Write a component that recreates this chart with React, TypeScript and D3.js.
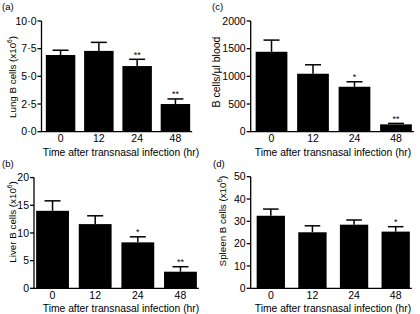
import React from "react";
import * as d3 from "d3";

const categories = ["0", "12", "24", "48"];

const lungMeans = [6.93, 7.3, 5.93, 2.5];
const lungSem = [0.43, 0.77, 0.61, 0.46];
const lungStars = ["", "", "**", "**"];
const lungTicks = [0, 2.5, 5, 7.5, 10];

const liverMeans = [14.0, 11.6, 8.3, 3.0];
const liverSem = [1.8, 1.5, 1.0, 0.9];
const liverStars = ["", "", "*", "**"];
const liverTicks = [0, 5, 10, 15, 20];

const bloodMeans = [1444, 1047, 812, 133];
const bloodSem = [211, 162, 90, 17];
const bloodStars = ["", "", "*", "**"];
const bloodTicks = [0, 500, 1000, 1500, 2000];

const spleenMeans = [32.5, 25.1, 28.5, 25.4];
const spleenSem = [3.0, 2.9, 2.1, 2.2];
const spleenStars = ["", "", "", "*"];
const spleenTicks = [0, 10, 20, 30, 40, 50];

const xTitle = "Time after transnasal infection (hr)";
const FONT = "'Liberation Sans', Arial, Helvetica, sans-serif";

type PanelProps = {
  tag: string;
  tagX: number;
  tagY: number;
  means: number[];
  sem: number[];
  stars: string[];
  ticks: number[];
  fmt: (v: number) => string;
  yTitle: string;
  yTitleSup?: string;
  yTitleX: number;
  yTitleY: number;
  yTitleSize: number;
  axisX: number;
  x0: number;
  x1: number;
  top: number;
  bottom: number;
  padInner: number;
  padOuter: number;
  xTitleX: number;
};

function Panel(p: PanelProps) {
  const x = d3
    .scaleBand<string>()
    .domain(categories)
    .range([p.x0, p.x1])
    .paddingInner(p.padInner)
    .paddingOuter(p.padOuter);
  const yMax = p.ticks[p.ticks.length - 1];
  const y = d3.scaleLinear().domain([0, yMax]).range([p.bottom, p.top]);
  const bw = x.bandwidth();
  const lastRight = (x(categories[categories.length - 1]) as number) + bw;
  const capW = Math.min(16, bw * 0.55);
  return (
    <g fontFamily={FONT} fill="#000">
      <text x={p.tagX} y={p.tagY} fontSize={9.5}>
        {p.tag}
      </text>
      {categories.map((c, i) => {
        const cx = (x(c) as number) + bw / 2;
        const yt = y(p.means[i] + p.sem[i]);
        return (
          <g key={"e" + c} stroke="#000" strokeWidth={1.5}>
            <line x1={cx} x2={cx} y1={y(p.means[i])} y2={yt} />
            <line x1={cx - capW / 2} x2={cx + capW / 2} y1={yt} y2={yt} />
          </g>
        );
      })}
      {categories.map((c, i) => (
        <rect
          key={"b" + c}
          x={x(c) as number}
          y={y(p.means[i])}
          width={bw}
          height={p.bottom - y(p.means[i])}
          fill="#000"
        />
      ))}
      {categories.map((c, i) =>
        p.stars[i] ? (
          <text
            key={"s" + c}
            x={(x(c) as number) + bw / 2}
            y={y(p.means[i] + p.sem[i]) - 1.5}
            fontSize={9}
            textAnchor="middle"
          >
            {p.stars[i]}
          </text>
        ) : null
      )}
      <line
        x1={p.axisX}
        x2={p.axisX}
        y1={y(yMax)}
        y2={p.bottom}
        stroke="#000"
        strokeWidth={1.3}
      />
      {p.ticks.map((t) => (
        <g key={"t" + t}>
          <line
            x1={p.axisX - 4}
            x2={p.axisX}
            y1={y(t)}
            y2={y(t)}
            stroke="#000"
            strokeWidth={1.3}
          />
          <text
            x={p.axisX - 5}
            y={y(t)}
            dy="0.35em"
            fontSize={10.5}
            textAnchor="end"
          >
            {p.fmt(t)}
          </text>
        </g>
      ))}
      <line
        x1={p.axisX}
        x2={lastRight + 2}
        y1={p.bottom}
        y2={p.bottom}
        stroke="#000"
        strokeWidth={1.3}
      />
      {categories.map((c) => (
        <text
          key={"x" + c}
          x={(x(c) as number) + bw / 2}
          y={p.bottom + 10.5}
          fontSize={10.5}
          textAnchor="middle"
        >
          {c}
        </text>
      ))}
      <text
        x={p.xTitleX}
        y={p.bottom + 24}
        fontSize={10.3}
        textAnchor="middle"
      >
        {xTitle}
      </text>
      <text
        transform={`translate(${p.yTitleX},${p.yTitleY}) rotate(-90)`}
        fontSize={p.yTitleSize}
        textAnchor="middle"
      >
        {p.yTitle}
        {p.yTitleSup ? (
          <>
            <tspan fontSize={6.5} dy={-3.8}>
              {p.yTitleSup}
            </tspan>
            <tspan dy={3.8}>)</tspan>
          </>
        ) : null}
      </text>
    </g>
  );
}

const fmtDot = (v: number) => d3.format(".1f")(v).replace(".", "\u00b7");
const fmtInt = (v: number) => d3.format("d")(v);

export default function App() {
  return (
    <svg
      width={420}
      height={314}
      style={{ position: "absolute", left: 0, top: 0, background: "#fff" }}
    >
      <rect width={420} height={314} fill="#fff" />
      <Panel
        tag="(a)"
        tagX={2}
        tagY={10}
        means={lungMeans}
        sem={lungSem}
        stars={lungStars}
        ticks={lungTicks}
        fmt={fmtDot}
        yTitle="Lung B cells (x10"
        yTitleSup="6"
        yTitleX={16}
        yTitleY={77}
        yTitleSize={9.8}
        axisX={41.5}
        x0={42}
        x1={194}
        top={21}
        bottom={131.7}
        padInner={0.23}
        padOuter={0.1}
        xTitleX={121}
      />
      <Panel
        tag="(b)"
        tagX={2}
        tagY={167}
        means={liverMeans}
        sem={liverSem}
        stars={liverStars}
        ticks={liverTicks}
        fmt={fmtInt}
        yTitle="Liver B cells (x10"
        yTitleSup="6"
        yTitleX={16}
        yTitleY={222}
        yTitleSize={9.8}
        axisX={34}
        x0={34}
        x1={199}
        top={177.6}
        bottom={288.3}
        padInner={0.23}
        padOuter={0.05}
        xTitleX={121}
      />
      <Panel
        tag="(c)"
        tagX={212}
        tagY={10}
        means={bloodMeans}
        sem={bloodSem}
        stars={bloodStars}
        ticks={bloodTicks}
        fmt={fmtInt}
        yTitle="B cells/µl blood"
        yTitleX={220}
        yTitleY={72}
        yTitleSize={10.5}
        axisX={250.7}
        x0={251.5}
        x1={416}
        top={21}
        bottom={131.7}
        padInner={0.235}
        padOuter={0.1}
        xTitleX={333}
      />
      <Panel
        tag="(d)"
        tagX={213}
        tagY={167}
        means={spleenMeans}
        sem={spleenSem}
        stars={spleenStars}
        ticks={spleenTicks}
        fmt={fmtInt}
        yTitle="Spleen B cells (x10"
        yTitleSup="6"
        yTitleX={226}
        yTitleY={221}
        yTitleSize={9.8}
        axisX={250.7}
        x0={252.5}
        x1={414}
        top={176.7}
        bottom={288.3}
        padInner={0.32}
        padOuter={0.1}
        xTitleX={333}
      />
    </svg>
  );
}
